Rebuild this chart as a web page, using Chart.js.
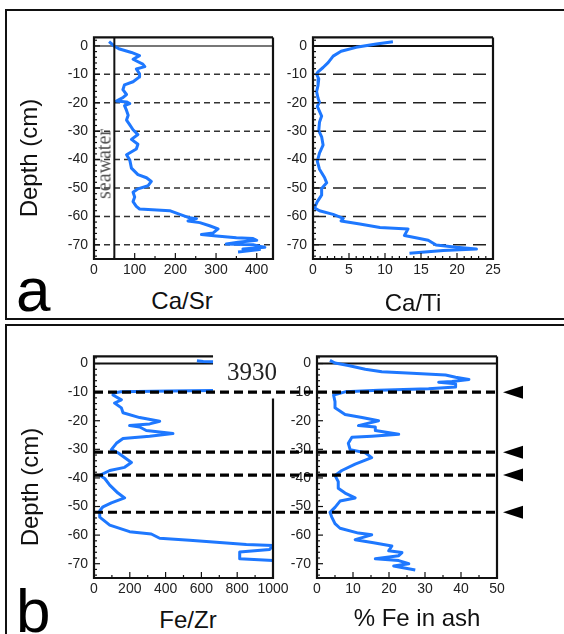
<!DOCTYPE html>
<html>
<head>
<meta charset="utf-8">
<script src="https://cdn.jsdelivr.net/npm/chart.js@4.4.0/dist/chart.umd.min.js"></script>
<style>
  body { margin: 0; background: #fff; }
  #fig { position: relative; width: 564px; height: 634px; overflow: hidden; font-family: "Liberation Sans", Arial, sans-serif; }
  .frame { position: absolute; border: 2px solid #111; box-sizing: border-box; }
  canvas { position: absolute; }
  .txt { position: absolute; white-space: nowrap; transform: translate(-50%, -50%); color: #111; font-size: 24px; line-height: normal; }
  .rot { transform: translate(-50%, -50%) rotate(-90deg); }
  .big { position: absolute; font-size: 62px; line-height: 62px; color: #000; }
  .serif { font-family: "Liberation Serif", "Times New Roman", serif; }
</style>
</head>
<body>
<div id="fig">
  <div class="frame" style="left:5px; top:9px; width:600px; height:311px;"></div>
  <div class="frame" style="left:5px; top:324px; width:600px; height:330px;"></div>

  <canvas id="caSrChart"></canvas>
  <canvas id="caTiChart"></canvas>
  <canvas id="feZrChart"></canvas>
  <canvas id="feAshChart"></canvas>
  <canvas id="overlay" width="564" height="634" style="left:0; top:0; z-index:5;"></canvas>

  <div class="big" style="left:16px; top:259px;">a</div>
  <div class="big" style="left:16px; top:580px;">b</div>
  <div class="txt rot" style="left:29px; top:158px;">Depth (cm)</div>
  <div class="txt rot" style="left:30px; top:487px;">Depth (cm)</div>
  <div class="txt" style="left:182px; top:301px;">Ca/Sr</div>
  <div class="txt" style="left:413px; top:303px;">Ca/Ti</div>
  <div class="txt" style="left:188px; top:620px;">Fe/Zr</div>
  <div class="txt" style="left:417px; top:618px;">% Fe in ash</div>
  <div class="txt rot serif" style="left:104px; top:164px; font-size:20px; color:#555;">seawater</div>
  <div class="txt serif" style="left:252px; top:372px; font-size:25px; color:#222;">3930</div>
</div>

<script>
// 深度目盛り
const depthTicks = [0, -10, -20, -30, -40, -50, -60, -70];
const gridDepthsA = [-10, -20, -30, -40, -50, -60, -70];
const eventDepthsB = [-10, -31, -39, -52];
const seawaterCaSr = 50;
const fezrOffScale = 3930;

// 横軸目盛り
const caSrTicks = [0, 100, 200, 300, 400];
const caTiTicks = [0, 5, 10, 15, 20, 25];
const feZrTicks = [0, 200, 400, 600, 800, 1000];
const feAshTicks = [0, 10, 20, 30, 40, 50];

// Ca/Sr
const caSrDepth = [1.5, -0.2, -1.1, -2.3, -3.4, -4.7, -6.4, -7.3, -8.1, -9.8, -10.9, -12.6, -13.7, -15.4, -17.1, -18.2, -19.4, -19.7, -20.3, -21, -22.7, -24.4, -26.1, -27.8, -29.5, -31.2, -32.9, -34.6, -36.3, -38.3, -40.2, -43, -45.3, -46.4, -47.7, -49.2, -50.3, -51.5, -53.2, -54.8, -56.5, -57.4, -58, -59.3, -60.5, -60.8, -61.6, -62.2, -63.3, -64.4, -65.8, -66.4, -66.9, -67.5, -67.8, -68.4, -69.1, -69.7, -70, -70.9, -71.5, -71.7, -72.5];
const caSrValue = [37, 51, 63, 92, 112, 96, 120, 125, 104, 112, 112, 96, 75, 71, 80, 71, 55, 80, 88, 75, 80, 84, 80, 88, 96, 108, 92, 108, 104, 80, 88, 92, 108, 129, 141, 133, 108, 96, 100, 96, 104, 112, 186, 211, 235, 252, 231, 260, 284, 305, 293, 264, 301, 350, 391, 400, 354, 325, 391, 420, 366, 407, 354];

// Ca/Ti
const caTiDepth = [1.5, 0.7, -0.5, -1.9, -3.6, -5.9, -7.6, -9.1, -9.9, -11.6, -13.9, -16.1, -18.4, -19.8, -21.3, -24.7, -26.9, -29.8, -32, -34.9, -37.7, -40.6, -43.4, -46.3, -48.2, -50.2, -52.5, -54.8, -57, -58, -59.3, -60.7, -61.6, -62.7, -63.9, -64.4, -66.7, -67.8, -68.4, -70.1, -70.9, -71.5, -72, -73];
const caTiValue = [11.1, 8.8, 6.0, 3.9, 2.8, 2.1, 1.4, 0.7, 0.5, 0.8, 0.7, 0.5, 0.7, 0.9, 0.6, 1.2, 0.9, 0.8, 1.2, 1.4, 0.9, 0.6, 0.9, 1.6, 1.9, 1.2, 1.2, 0.6, 0.2, 0.9, 2.8, 4.2, 3.9, 6.5, 9.3, 13.2, 12.7, 14.8, 16, 17.1, 19.9, 22.7, 18.1, 13.4];

// Fe/Zr (0〜-9 cm は 3930 で枠外 → null で途切れ)
const feZrDepth = [1.0, 0.7, 0.6, null, -9.4, -9.6, -9.9, -10.3, -11.0, -12.7, -13.8, -15.5, -17.2, -18.9, -20.2, -21.1, -21.7, -22.2, -23.4, -24.5, -25.4, -26.2, -27.9, -30.1, -31.2, -34.6, -36.3, -37.4, -39.1, -40.2, -42.5, -45.3, -47.0, -48.7, -50.1, -51.5, -53.7, -56.5, -58.8, -59.6, -61.1, -61.8, -62.7, -63.3, -63.6, -65.0, -65.9, -68.3, -68.9];
const feZrValue = [575, 610, 665, null, 665, 420, 150, 110, 106, 153, 115, 153, 162, 255, 367, 311, 199, 255, 292, 441, 311, 162, 125, 97, 134, 209, 171, 88, 32, 60, 88, 134, 171, 97, 50, 32, 32, 88, 199, 320, 367, 534, 721, 851, 1000, 981, 814, 814, 1000];

// % Fe in ash
const feAshDepth = [1.1, 0.2, -0.7, -2.0, -2.9, -3.4, -4.0, -4.8, -5.6, -6.3, -6.5, -7.1, -8.2, -8.8, -9.3, -9.9, -11, -13.3, -15.5, -17.8, -18.9, -20, -21.7, -22.2, -23.4, -24.7, -25.4, -25.8, -27.9, -30.1, -31.2, -32.9, -35.2, -37.4, -39.1, -41.3, -43.6, -45.3, -47, -48.1, -50.3, -52, -53.7, -56, -57.6, -59.3, -59.9, -61.6, -62.7, -63.8, -65.5, -66.1, -67.2, -68.3, -68.9, -70, -70.8, -72.2];
const feAshValue = [3.6, 5.0, 8.7, 13.4, 18, 26.4, 35.7, 38.5, 42.2, 37.5, 33.8, 38.5, 38.5, 31, 17.1, 7.8, 4.6, 5.0, 5.0, 7.8, 12.5, 17.1, 11.5, 16.2, 16.2, 22.7, 15.2, 9.7, 8.7, 9.2, 13.4, 15.2, 10.6, 6.9, 5.0, 5.9, 5.9, 7.8, 10.6, 6.4, 5.0, 3.6, 4.1, 5.0, 6.4, 11.5, 15.2, 10.6, 15.7, 20.8, 19.9, 23.6, 22.7, 16.2, 22.7, 25.5, 21.3, 27.3];

const BLUE = "#1e78ff";
const TICK_FONT = { family: "Liberation Sans", size: 14 };

function toPoints(depths, values) {
  return depths.map((d, i) => ({ x: values[i], y: d }));
}

// 枠・目盛り・グリッド線
const framePlugin = {
  id: "frame",
  beforeDatasetsDraw(chart, args, opt) {
    const { ctx, chartArea: a, scales } = chart;
    const x = scales.x, y = scales.y;
    ctx.save();
    if (opt.grid) {
      ctx.setLineDash(opt.gridDash);
      ctx.strokeStyle = opt.gridColor;
      ctx.lineWidth = 1.5;
      opt.grid.forEach((v) => {
        const py = y.getPixelForValue(v);
        ctx.beginPath();
        ctx.moveTo(a.left, py);
        ctx.lineTo(a.right, py);
        ctx.stroke();
      });
    }
    ctx.setLineDash([]);
    ctx.strokeStyle = opt.zeroColor;
    ctx.lineWidth = 2;
    const zx = opt.breakX != null ? x.getPixelForValue(opt.breakX) : a.right;
    const y0 = y.getPixelForValue(0);
    ctx.beginPath();
    ctx.moveTo(a.left, y0);
    ctx.lineTo(zx, y0);
    ctx.stroke();
    ctx.restore();
  },
  afterDatasetsDraw(chart, args, opt) {
    const { ctx, chartArea: a, scales } = chart;
    const x = scales.x, y = scales.y;
    ctx.save();
    ctx.strokeStyle = "#111";
    ctx.lineWidth = 1.2;
    // 内向き目盛り
    for (let v = Math.ceil(y.min / 2) * 2; v <= y.max; v += 2) {
      const py = y.getPixelForValue(v);
      const len = v % 10 === 0 ? 6 : 3;
      ctx.beginPath();
      ctx.moveTo(a.left, py);
      ctx.lineTo(a.left + len, py);
      ctx.stroke();
    }
    for (let v = 0; v <= x.max + 1e-9; v += opt.minorX) {
      const px = x.getPixelForValue(v);
      const len = Math.abs(v / opt.majorX - Math.round(v / opt.majorX)) < 1e-6 ? 6 : 3;
      ctx.beginPath();
      ctx.moveTo(px, a.bottom);
      ctx.lineTo(px, a.bottom - len);
      ctx.stroke();
    }
    // 枠線
    ctx.lineWidth = 2.2;
    const zx = opt.breakX != null ? x.getPixelForValue(opt.breakX) : a.right;
    const ry = opt.breakY != null ? y.getPixelForValue(opt.breakY) : a.top;
    ctx.beginPath();
    ctx.moveTo(zx, a.top);
    ctx.lineTo(a.left, a.top);
    ctx.lineTo(a.left, a.bottom);
    ctx.lineTo(a.right, a.bottom);
    ctx.lineTo(a.right, ry);
    ctx.stroke();
    ctx.restore();
  },
};

// パネル作成
function makePanel(id, area, cfg) {
  const canvas = document.getElementById(id);
  const w = area.r - area.l + 45 + 22;
  const h = area.b - area.t + 6 + 28;
  canvas.width = w;
  canvas.height = h;
  canvas.style.left = area.l - 45 + "px";
  canvas.style.top = area.t - 6 + "px";

  const datasets = [];
  if (cfg.extra) datasets.push(cfg.extra);
  datasets.push({
    data: cfg.points,
    showLine: true,
    borderColor: BLUE,
    borderWidth: 3,
    pointRadius: 0,
    tension: 0,
    spanGaps: false,
    borderJoinStyle: "round",
  });

  return new Chart(canvas.getContext("2d"), {
    type: "scatter",
    data: { datasets: datasets },
    options: {
      responsive: false,
      animation: false,
      events: [],
      layout: { autoPadding: false, padding: { left: 0, top: 6, right: 22, bottom: 0 } },
      plugins: {
        legend: { display: false },
        tooltip: { enabled: false },
        frame: cfg.frame,
      },
      scales: {
        x: {
          type: "linear",
          min: 0,
          max: cfg.xMax,
          grid: { display: false, drawTicks: false },
          border: { display: false },
          afterFit: (s) => { s.height = 28; },
          afterBuildTicks: (s) => { s.ticks = cfg.xTicks.map((v) => ({ value: v })); },
          ticks: {
            padding: 3,
            maxRotation: 0,
            autoSkip: false,
            color: "#222",
            font: TICK_FONT,
            callback: (v) => String(v),
          },
        },
        y: {
          type: "linear",
          min: -75,
          max: cfg.yMax,
          grid: { display: false, drawTicks: false },
          border: { display: false },
          afterFit: (s) => { s.width = 45; },
          afterBuildTicks: (s) => { s.ticks = depthTicks.map((v) => ({ value: v })); },
          ticks: {
            padding: 6,
            autoSkip: false,
            color: "#222",
            font: TICK_FONT,
            callback: (v) => String(v),
          },
        },
      },
    },
    plugins: [framePlugin],
  });
}

const caSrChart = makePanel("caSrChart", { l: 94, r: 273, t: 29, b: 259 }, {
  points: toPoints(caSrDepth, caSrValue),
  xMax: 440,
  yMax: 3,
  xTicks: caSrTicks,
  extra: {
    data: [{ x: seawaterCaSr, y: 3 }, { x: seawaterCaSr, y: -75 }],
    showLine: true,
    borderColor: "#111",
    borderWidth: 2,
    pointRadius: 0,
  },
  frame: { grid: gridDepthsA, gridDash: [6, 4], gridColor: "#333", zeroColor: "#777", majorX: 100, minorX: 50 },
});

const caTiChart = makePanel("caTiChart", { l: 313, r: 493, t: 29, b: 259 }, {
  points: toPoints(caTiDepth, caTiValue),
  xMax: 25,
  yMax: 3,
  xTicks: caTiTicks,
  frame: { grid: gridDepthsA, gridDash: [13, 7], gridColor: "#222", zeroColor: "#111", majorX: 5, minorX: 1 },
});

const feZrChart = makePanel("feZrChart", { l: 94, r: 273, t: 348, b: 578 }, {
  points: toPoints(feZrDepth, feZrValue),
  xMax: 1000,
  yMax: 2.5,
  xTicks: feZrTicks,
  frame: { zeroColor: "#111", majorX: 200, minorX: 100, breakX: 665, breakY: -12.2 },
});

const feAshChart = makePanel("feAshChart", { l: 317, r: 497, t: 348, b: 578 }, {
  points: toPoints(feAshDepth, feAshValue),
  xMax: 50,
  yMax: 2.5,
  xTicks: feAshTicks,
  frame: { zeroColor: "#111", majorX: 10, minorX: 5 },
});

// パネル b の横断破線と矢印
function drawEventLines() {
  const ov = document.getElementById("overlay");
  const ctx = ov.getContext("2d");
  const yS = feZrChart.scales.y;
  const top = parseFloat(feZrChart.canvas.style.top);
  const left = parseFloat(feZrChart.canvas.style.left) + feZrChart.chartArea.left;
  const tipX = 503;
  eventDepthsB.forEach((d) => {
    const py = top + yS.getPixelForValue(d);
    ctx.save();
    ctx.strokeStyle = "#000";
    ctx.lineWidth = 3.2;
    ctx.setLineDash([9, 5]);
    ctx.beginPath();
    ctx.moveTo(left, py);
    ctx.lineTo(tipX - 8, py);
    ctx.stroke();
    ctx.setLineDash([]);
    ctx.fillStyle = "#000";
    ctx.beginPath();
    ctx.moveTo(tipX, py);
    ctx.lineTo(tipX + 20, py - 6.5);
    ctx.lineTo(tipX + 20, py + 6.5);
    ctx.closePath();
    ctx.fill();
    ctx.restore();
  });
}
drawEventLines();
</script>
</body>
</html>
